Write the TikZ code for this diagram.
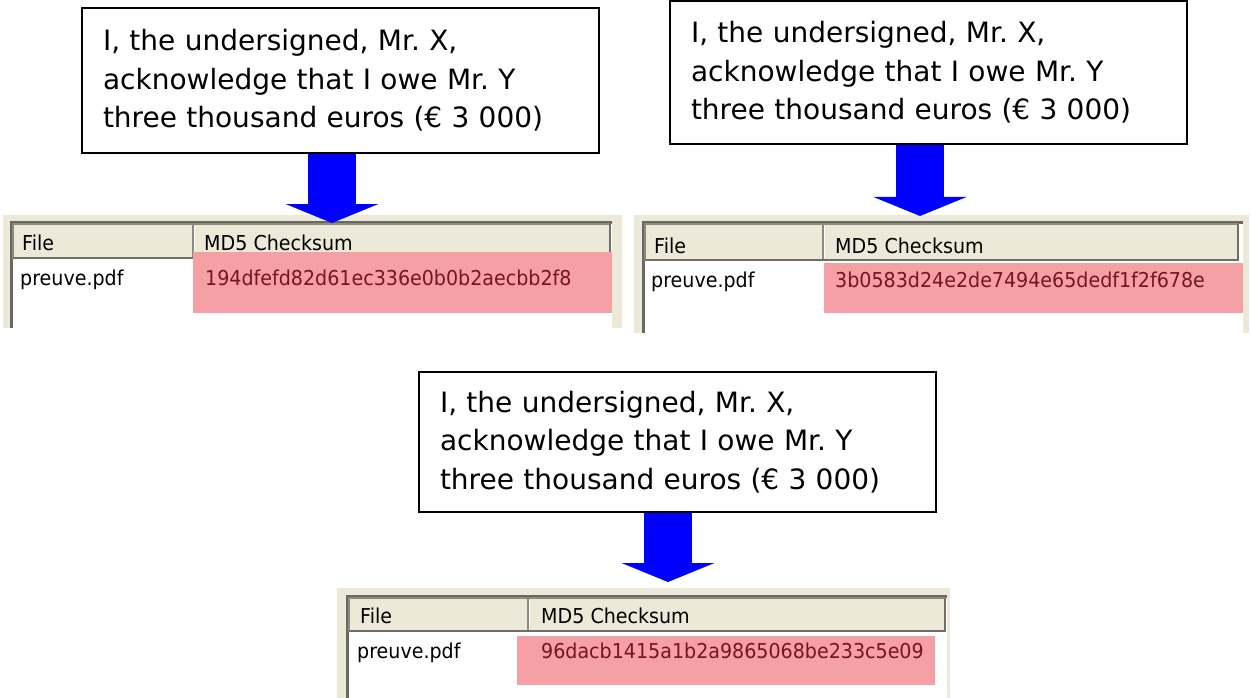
\documentclass[tikz,border=0pt]{standalone}
\usepackage{fontspec}
\setmainfont{DejaVu Sans}
\newfontfamily\listfont[FakeStretch=0.93]{DejaVu Sans}
\usetikzlibrary{arrows.meta}
\frenchspacing

\definecolor{xpbeige}{RGB}{236,233,216}
\definecolor{xpshadow}{RGB}{140,138,128}
\definecolor{xpedge}{RGB}{105,105,100}
\definecolor{hashpink}{RGB}{245,160,165}
\definecolor{hashtext}{RGB}{120,20,30}

\tikzset{
  notebox/.style={draw=black, line width=2pt, fill=white, anchor=north west,
    text width=475pt, inner xsep=21pt, inner ysep=0pt, align=left,
    font=\fontsize{28}{38.5}\selectfont},
  blockarrow/.style={draw=blue, line width=48pt,
    -{Triangle[width=93pt, length=19pt, line width=0pt]}},
  panel/.style={fill=xpbeige},
  listedge/.style={draw=xpedge, line width=3pt},
  hdrcell/.style={fill=xpbeige, draw=xpshadow, line width=1.5pt},
  hdrshade/.style={draw=xpshadow!80!black, line width=2pt},
  hdrlight/.style={draw=white, line width=1.5pt},
  hilite/.style={fill=hashpink},
  hdrtext/.style={anchor=base west, inner sep=0pt,
    font=\listfont\fontsize{20.5}{24}\selectfont},
  rowtext/.style={hdrtext},
  sumtext/.style={hdrtext, text=hashtext},
}

\begin{document}
\begin{tikzpicture}[x=1pt, y=-1pt]
\useasboundingbox (0,0) rectangle (1251,698);

% the three copies of the statement
\node[notebox, minimum height=145pt] (note1) at (81,7)
  {I, the undersigned, Mr. X,\\acknowledge that I owe Mr. Y\\three thousand euros (€ 3 000)};
\node[notebox, minimum height=143pt] (note2) at (669,0)
  {I, the undersigned, Mr. X,\\acknowledge that I owe Mr. Y\\three thousand euros (€ 3 000)};
\node[notebox, minimum height=140pt] (note3) at (418,371)
  {I, the undersigned, Mr. X,\\acknowledge that I owe Mr. Y\\three thousand euros (€ 3 000)};

% left list view
\fill[panel] (3,215) rectangle (622,328);
\fill[white] (10,221) rectangle (612,328);
\draw[listedge] (11,328) -- (11,222) -- (612,222);
\draw[hdrcell] (13,224) rectangle (193,258);
\draw[hdrcell] (193,224) rectangle (610,258);
\draw[hdrshade] (13,258) -- (610,258) -- (610,224);
\draw[hdrlight] (194.5,226) -- (194.5,256);
\fill[hilite] (193,252) rectangle (612,313);
\node[hdrtext] (file1) at (22,251) {File};
\node[hdrtext] (md5hdr1) at (204,251) {MD5 Checksum};
\node[rowtext] (name1) at (20,285) {preuve.pdf};
\node[sumtext] (sum1) at (205,285) {194dfefd82d61ec336e0b0b2aecbb2f8};

% right list view
\fill[panel] (634,215) rectangle (1249,333);
\fill[white] (642,221) rectangle (1243,333);
\draw[listedge] (643,333) -- (643,222) -- (1243,222);
\draw[hdrcell] (645,224) rectangle (823,260);
\draw[hdrcell] (823,224) rectangle (1238,260);
\draw[hdrshade] (645,260) -- (1238,260) -- (1238,224);
\draw[hdrlight] (824.5,226) -- (824.5,258);
\fill[hilite] (824,263) rectangle (1243,313);
\node[hdrtext] (file2) at (654,253) {File};
\node[hdrtext] (md5hdr2) at (835,253) {MD5 Checksum};
\node[rowtext] (name2) at (651,287) {preuve.pdf};
\node[sumtext] (sum2) at (835,287) {3b0583d24e2de7494e65dedf1f2f678e};

% bottom list view
\fill[panel] (337,588) rectangle (950,698);
\fill[white] (346,595) rectangle (947,698);
\draw[listedge] (347,698) -- (347,596) -- (947,596);
\draw[hdrcell] (349,598) rectangle (528,631);
\draw[hdrcell] (528,598) rectangle (945,631);
\draw[hdrshade] (349,631) -- (945,631) -- (945,598);
\draw[hdrlight] (529.5,600) -- (529.5,629);
\fill[hilite] (517,636) rectangle (935,685);
\node[hdrtext] (file3) at (360,623) {File};
\node[hdrtext] (md5hdr3) at (541,623) {MD5 Checksum};
\node[rowtext] (name3) at (357,658) {preuve.pdf};
\node[sumtext] (sum3) at (541,658) {96dacb1415a1b2a9865068be233c5e09};

% arrows from each statement down to its checksum
\coordinate (tip1) at (332,223);
\coordinate (tip2) at (920,216);
\coordinate (tip3) at (668,582);
\draw[blockarrow] (tip1 |- note1.south) -- (tip1);
\draw[blockarrow] (tip2 |- note2.south) -- (tip2);
\draw[blockarrow] (tip3 |- note3.south) -- (tip3);
\end{tikzpicture}
\end{document}
